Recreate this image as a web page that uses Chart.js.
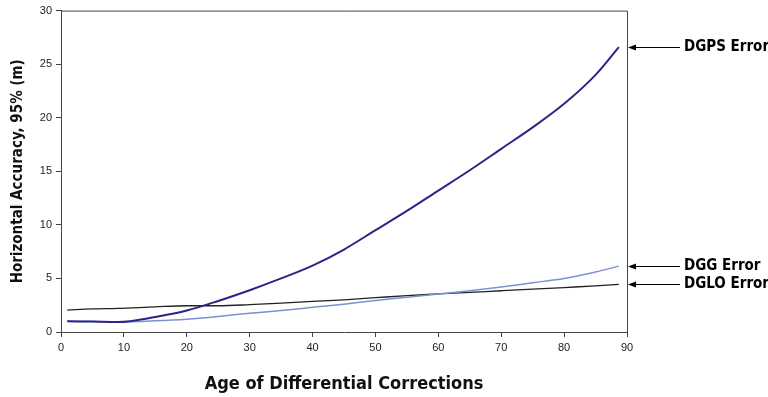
<!DOCTYPE html>
<html>
<head>
<meta charset="utf-8">
<script src="https://cdn.jsdelivr.net/npm/chart.js@4.4.1/dist/chart.umd.min.js"></script>
<style>
  html, body { margin: 0; padding: 0; background: #fff; }
  #wrap { width: 768px; height: 397px; }
</style>
</head>
<body>
<div id="wrap"><canvas id="chart"></canvas></div>
<script>
// age of corrections (s) and 95% horizontal error (m)
const ages = [1, 5, 9, 15, 20, 25, 30, 35, 40, 45, 50, 55, 60, 65, 70, 75, 80, 85, 88.7];
const dgpsError = [1.0, 0.97, 0.93, 1.4, 2.0, 2.9, 3.9, 5.0, 6.2, 7.7, 9.5, 11.3, 13.2, 15.1, 17.1, 19.1, 21.3, 24.0, 26.6];
const dggError = [1.0, 0.98, 0.95, 1.05, 1.2, 1.45, 1.75, 2.0, 2.3, 2.6, 2.95, 3.25, 3.55, 3.85, 4.2, 4.6, 5.0, 5.6, 6.15];
const dgloError = [2.05, 2.15, 2.2, 2.35, 2.45, 2.45, 2.55, 2.7, 2.85, 3.0, 3.2, 3.4, 3.55, 3.7, 3.85, 4.0, 4.15, 4.3, 4.45];
const xTicks = [0, 10, 20, 30, 40, 50, 60, 70, 80, 90];
const yTicks = [0, 5, 10, 15, 20, 25, 30];

const narrow = "'Liberation Sans Narrow', 'DejaVu Sans Condensed', 'Liberation Sans', sans-serif";
const axisGrey = '#444';

function toPoints(vals) {
    return ages.map((a, i) => ({ x: a, y: vals[i] }));
}

// frame round the plot plus the arrows pointing at each curve's end
const callouts = {
    id: 'callouts',
    afterDraw(chart) {
        const ctx = chart.ctx;
        const area = chart.chartArea;
        const yScale = chart.scales.y;
        ctx.save();
        ctx.strokeStyle = axisGrey;
        ctx.lineWidth = 1;
        ctx.beginPath();
        ctx.moveTo(area.left, area.top + 0.5);
        ctx.lineTo(area.right + 0.5, area.top + 0.5);
        ctx.lineTo(area.right + 0.5, area.bottom);
        ctx.stroke();

        chart.data.datasets.forEach(ds => {
            const last = ds.data[ds.data.length - 1];
            const py = Math.round(yScale.getPixelForValue(last.y)) + 0.5;
            const tipX = area.right + 1;
            ctx.strokeStyle = '#000';
            ctx.fillStyle = '#000';
            ctx.lineWidth = 1.2;
            ctx.beginPath();
            ctx.moveTo(tipX + 6, py);
            ctx.lineTo(680, py);
            ctx.stroke();
            ctx.beginPath();
            ctx.moveTo(tipX, py);
            ctx.lineTo(tipX + 8, py - 3);
            ctx.lineTo(tipX + 8, py + 3);
            ctx.closePath();
            ctx.fill();
            ctx.font = 'bold 15px ' + narrow;
            ctx.textAlign = 'left';
            ctx.textBaseline = 'middle';
            ctx.fillText(ds.label, 684, py);
        });
        ctx.restore();
    }
};

new Chart(document.getElementById('chart'), {
    type: 'line',
    data: {
        datasets: [
            { label: 'DGPS Error', data: toPoints(dgpsError), borderColor: '#2b2588', borderWidth: 2, pointRadius: 0, tension: 0.4, cubicInterpolationMode: 'monotone' },
            { label: 'DGG Error', data: toPoints(dggError), borderColor: '#7d90cf', borderWidth: 1.5, pointRadius: 0, tension: 0.4, cubicInterpolationMode: 'monotone' },
            { label: 'DGLO Error', data: toPoints(dgloError), borderColor: '#222222', borderWidth: 1.3, pointRadius: 0, tension: 0.4, cubicInterpolationMode: 'monotone' }
        ]
    },
    options: {
        responsive: true,
        maintainAspectRatio: false,
        animation: false,
        layout: { padding: { left: 0, top: 10, right: 141, bottom: 0 } },
        plugins: { legend: { display: false }, tooltip: { enabled: false } },
        scales: {
            x: {
                type: 'linear',
                min: 0,
                max: 90,
                afterBuildTicks: s => { s.ticks = xTicks.map(v => ({ value: v })); },
                afterFit: s => { s.height = 65; },
                grid: { drawOnChartArea: false, tickLength: 5, color: axisGrey },
                border: { color: axisGrey, width: 1 },
                ticks: { color: '#222', font: { family: "'Liberation Sans', Arial, sans-serif", size: 11 }, padding: 4, maxRotation: 0 },
                title: { display: true, text: 'Age of Differential Corrections', color: '#111', font: { family: narrow, size: 18, weight: 'bold' }, padding: { top: 0, bottom: 2 } }
            },
            y: {
                min: 0,
                max: 30,
                afterBuildTicks: s => { s.ticks = yTicks.map(v => ({ value: v })); },
                afterFit: s => { s.width = 61; },
                grid: { drawOnChartArea: false, tickLength: 5, color: axisGrey },
                border: { color: axisGrey, width: 1 },
                ticks: { color: '#222', font: { family: "'Liberation Sans', Arial, sans-serif", size: 11 }, padding: 4 },
                title: { display: true, text: 'Horizontal Accuracy, 95% (m)', color: '#111', font: { family: narrow, size: 15, weight: 'bold' }, padding: { top: 9, bottom: 0 } }
            }
        }
    },
    plugins: [callouts]
});
</script>
</body>
</html>
